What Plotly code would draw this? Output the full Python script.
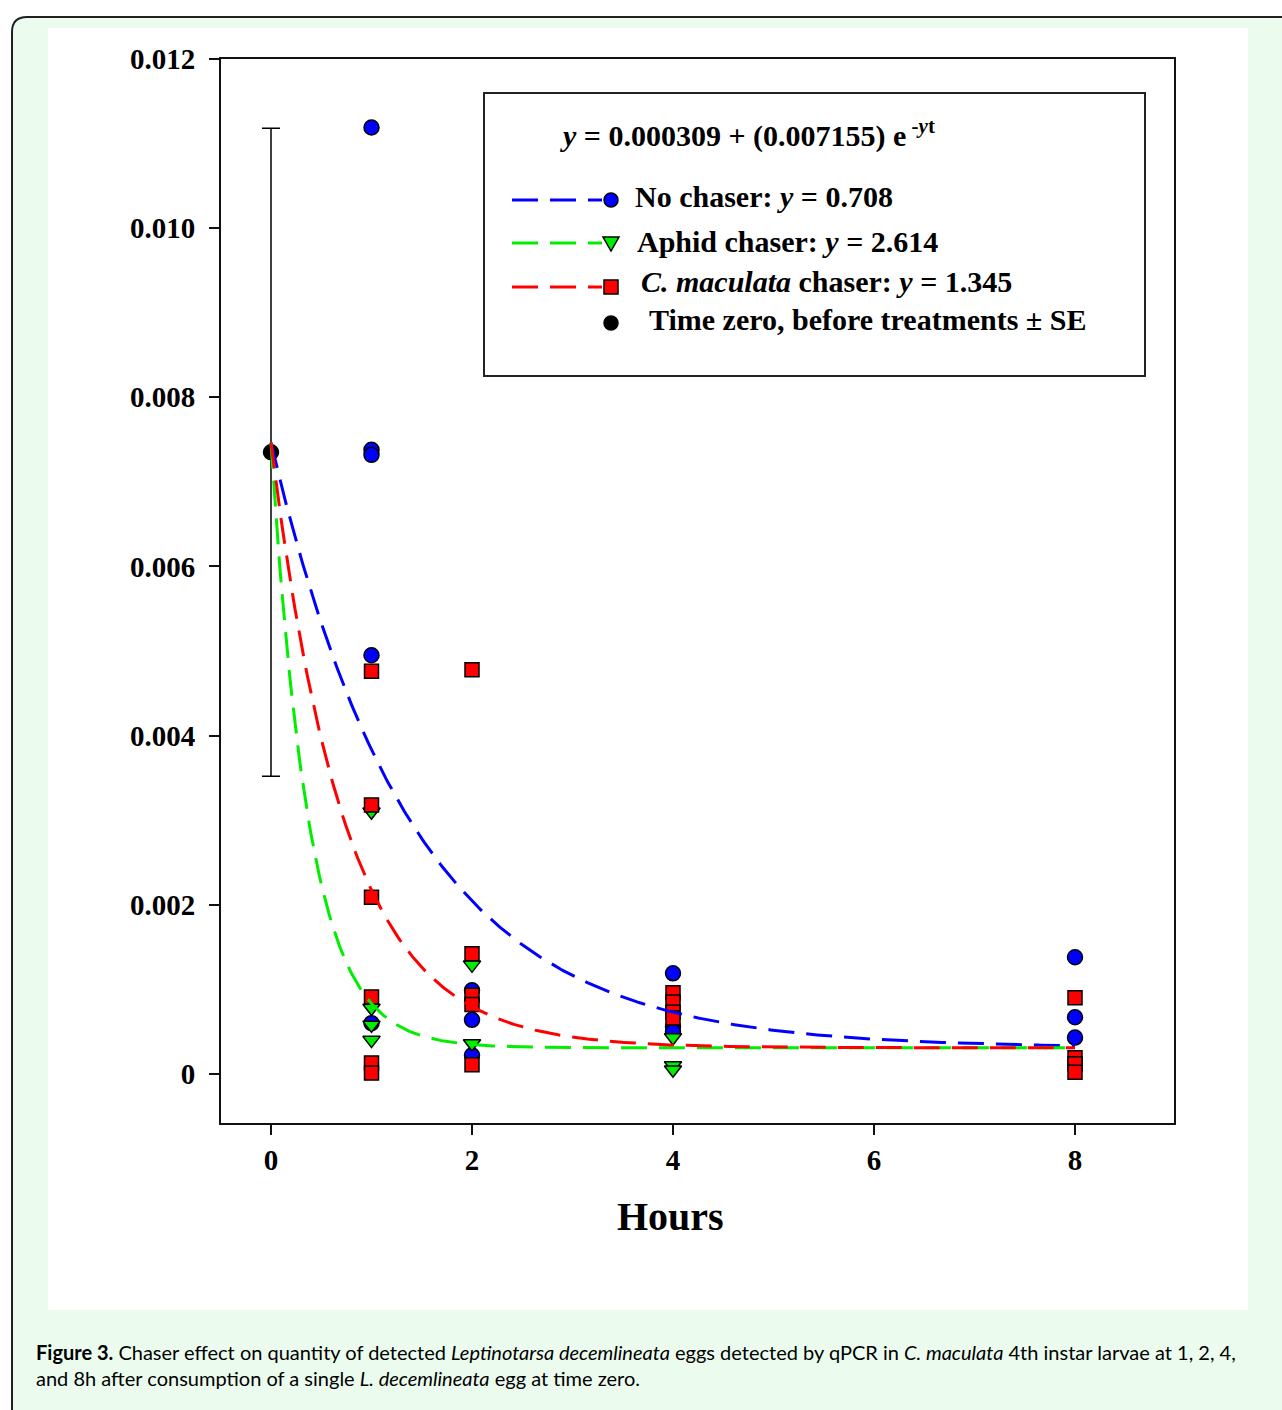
import numpy as np
import plotly.graph_objects as go

W, H = 1282, 1410

# ---------------- data ----------------
time_zero_t = [0]
time_zero_mean = [0.00735]
time_zero_se = [0.00383]

no_chaser_t = [1, 1, 1, 1, 1, 2, 2, 2, 4, 4, 4, 8, 8, 8]
no_chaser_y = [0.01119, 0.00738, 0.00732, 0.00495, 0.00060,
               0.00099, 0.00064, 0.00022,
               0.00119, 0.00056, 0.00050,
               0.00138, 0.00067, 0.00043]

aphid_t = [1, 1, 1, 1, 2, 2, 4, 4, 4]
aphid_y = [0.00310, 0.00078, 0.00058, 0.00040,
           0.00129, 0.00036,
           0.00043, 0.00010, 0.00005]

cmac_t = [1, 1, 1, 1, 1, 1, 2, 2, 2, 2, 2, 4, 4, 4, 4, 8, 8, 8, 8]
cmac_y = [0.00476, 0.00318, 0.00209, 0.00091, 0.00013, 0.00001,
          0.00478, 0.00142, 0.00093, 0.00082, 0.00011,
          0.00096, 0.00085, 0.00073, 0.00066,
          0.00090, 0.00019, 0.00012, 0.00002]

# model: y = a0 + a1 * exp(-rate * t)
model_a0 = 0.000309
model_a1 = 0.007155
rate_no = 0.708
rate_aphid = 2.614
rate_cmac = 1.345

x_tickvals = [0, 2, 4, 6, 8]
x_ticktext = ["0", "2", "4", "6", "8"]
y_tickvals = [0, 0.002, 0.004, 0.006, 0.008, 0.010, 0.012]
y_ticktext = ["0", "0.002", "0.004", "0.006", "0.008", "0.010", "0.012"]

# ---------------- styles ----------------
BLUE = "#0000FF"
GREEN = "#00EE00"
RED = "#FF0000"
SERIF = "Liberation Serif"
BG_GREEN = "#EBFCEE"

# vertical calibration of the capture (offset / scale observed in the photographed page)
V_OFF = 16.0
V_SC = 1394.0 / 1410.0


def px(x):
    return x / W


def py(y):
    return 1 - ((y - V_OFF) / V_SC) / H


fig = go.Figure()

mk_line = dict(color="black", width=1.5)
fig.add_trace(go.Scatter(x=no_chaser_t, y=no_chaser_y, mode="markers",
                         marker=dict(symbol="circle", size=15, color=BLUE, line=mk_line),
                         showlegend=False, cliponaxis=False))
fig.add_trace(go.Scatter(x=aphid_t, y=aphid_y, mode="markers",
                         marker=dict(symbol="triangle-down", size=15, color=GREEN, line=mk_line),
                         showlegend=False, cliponaxis=False))
fig.add_trace(go.Scatter(x=cmac_t, y=cmac_y, mode="markers",
                         marker=dict(symbol="square", size=14, color=RED, line=mk_line),
                         showlegend=False, cliponaxis=False))
fig.add_trace(go.Scatter(x=time_zero_t, y=time_zero_mean, mode="markers",
                         marker=dict(symbol="circle", size=15, color="black", line=mk_line),
                         error_y=dict(type="data", array=time_zero_se, visible=True,
                                      color="black", thickness=1.5, width=9),
                         showlegend=False, cliponaxis=False))

tt = np.linspace(0, 8, 400)
for rate, col in [(rate_no, BLUE), (rate_aphid, GREEN), (rate_cmac, RED)]:
    fig.add_trace(go.Scatter(x=tt, y=model_a0 + model_a1 * np.exp(-rate * tt),
                             mode="lines", line=dict(color=col, width=3, dash="26px,12px"),
                             showlegend=False, hoverinfo="skip"))

shapes = []
# outer rounded green card
r = 15
top = 17
path = (f"M {px(12)},{py(1440)} L {px(12)},{py(top + r)} "
        f"Q {px(12)},{py(top)} {px(12 + r)},{py(top)} "
        f"L {px(1300)},{py(top)} L {px(1300)},{py(1440)} Z")
shapes.append(dict(type="path", path=path, xref="paper", yref="paper",
                   fillcolor=BG_GREEN, line=dict(color="#222222", width=2), layer="below"))
# white inner panel
shapes.append(dict(type="rect", xref="paper", yref="paper",
                   x0=px(48), x1=px(1248), y0=py(28), y1=py(1310),
                   fillcolor="white", line=dict(width=0), layer="below"))
# legend box
shapes.append(dict(type="rect", xref="paper", yref="paper",
                   x0=px(484), x1=px(1145), y0=py(93), y1=py(376),
                   fillcolor="rgba(0,0,0,0)", line=dict(color="#222222", width=2)))
# legend line samples
for yy, col in [(200, BLUE), (243, GREEN), (287, RED)]:
    shapes.append(dict(type="line", xref="paper", yref="paper",
                       x0=px(512), x1=px(602), y0=py(yy), y1=py(yy),
                       line=dict(color=col, width=3, dash="26px,12px")))
# legend glyphs
shapes.append(dict(type="circle", xref="paper", yref="paper",
                   x0=px(604), x1=px(618), y0=py(193), y1=py(207),
                   fillcolor=BLUE, line=dict(color="black", width=1.5)))
shapes.append(dict(type="path", xref="paper", yref="paper",
                   path=f"M {px(603)},{py(237)} L {px(619)},{py(237)} L {px(611)},{py(251)} Z",
                   fillcolor=GREEN, line=dict(color="black", width=1.5)))
shapes.append(dict(type="rect", xref="paper", yref="paper",
                   x0=px(604), x1=px(618), y0=py(280), y1=py(294),
                   fillcolor=RED, line=dict(color="black", width=1.5)))
shapes.append(dict(type="circle", xref="paper", yref="paper",
                   x0=px(604), x1=px(618), y0=py(316), y1=py(330),
                   fillcolor="black", line=dict(color="black", width=1.5)))

ann = []
bold_font = dict(family=SERIF, size=30, color="black", weight="bold")
ann.append(dict(text="<i>y</i> = 0.000309 + (0.007155) e<sup> -<i>y</i>t</sup>",
                x=px(558), y=py(133), xref="paper", yref="paper",
                xanchor="left", yanchor="middle", showarrow=False, font=bold_font))
legend_rows = [
    ("No chaser: <i>y</i> = 0.708", 633, 196),
    ("Aphid chaser: <i>y</i> = 2.614", 635, 242),
    ("<i>C. maculata</i> chaser: <i>y</i> = 1.345", 639, 281),
    ("Time zero, before treatments ± SE", 647, 319),
]
for txt, x0, y0 in legend_rows:
    ann.append(dict(text=txt, x=px(x0), y=py(y0), xref="paper", yref="paper",
                    xanchor="left", yanchor="middle", showarrow=False, font=bold_font))
ann.append(dict(text="Hours", x=px(670), y=py(1216), xref="paper", yref="paper",
                xanchor="center", yanchor="middle", showarrow=False,
                font=dict(family=SERIF, size=40, color="black", weight="bold")))
cap_font = dict(family="Lato", size=20, color="black")
ann.append(dict(text="<b>Figure 3.</b> Chaser effect on quantity of detected <i>Leptinotarsa decemlineata</i> "
                     "eggs detected by qPCR in <i>C. maculata</i> 4th instar larvae at 1, 2, 4,",
                x=px(34), y=py(1352), xref="paper", yref="paper",
                xanchor="left", yanchor="middle", showarrow=False, font=cap_font))
ann.append(dict(text="and 8h after consumption of a single <i>L. decemlineata</i> egg at time zero.",
                x=px(34), y=py(1378), xref="paper", yref="paper",
                xanchor="left", yanchor="middle", showarrow=False, font=cap_font))

axis_common = dict(showgrid=False, zeroline=False, showline=True, linecolor="#111111",
                   linewidth=2, mirror=True, ticks="outside", ticklen=10, tickwidth=2,
                   tickcolor="#111111",
                   tickfont=dict(family=SERIF, size=29, color="black", weight="bold"))

fig.update_layout(
    width=W, height=H,
    margin=dict(l=0, r=0, t=0, b=0),
    paper_bgcolor="white",
    plot_bgcolor="rgba(0,0,0,0)",
    showlegend=False,
    xaxis=dict(domain=[221 / W, 1174 / W], range=[-0.4975, 8.985],
               tickvals=x_tickvals, ticktext=x_ticktext, ticklabelstandoff=0, **axis_common),
    yaxis=dict(domain=[py(1123), py(59)], range=[-0.00058, 0.012],
               tickvals=y_tickvals, ticktext=y_ticktext, ticklabelstandoff=8, **axis_common),
    shapes=shapes,
    annotations=ann,
)

post = ("document.body.style.margin='0';document.body.style.padding='0';"
        "document.documentElement.style.overflow='hidden';"
        "var gd=document.getElementById('{plot_id}');"
        "gd.style.position='absolute';gd.style.top='0px';gd.style.left='0px';")
fig.write_html("out.html", config={"displayModeBar": False}, post_script=post)
